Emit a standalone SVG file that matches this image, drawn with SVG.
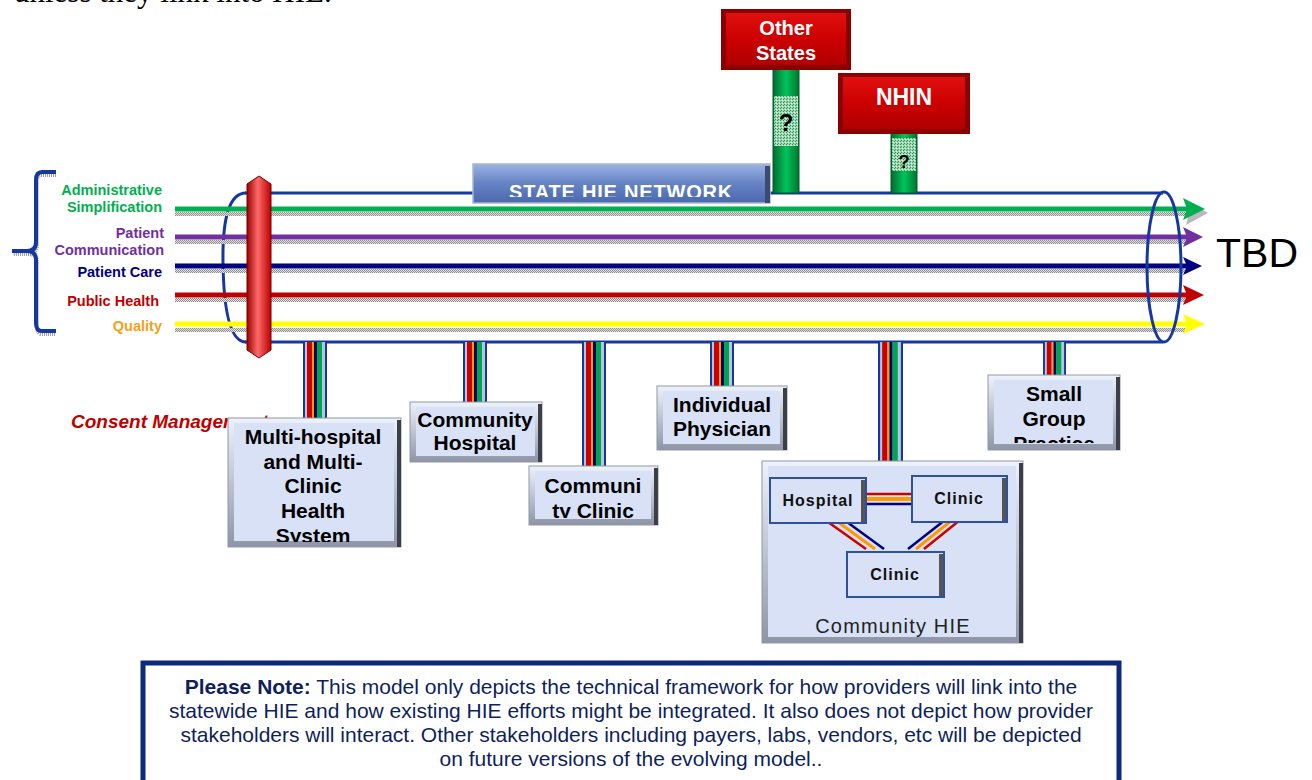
<svg xmlns="http://www.w3.org/2000/svg" width="1312" height="780" viewBox="0 0 1312 780">
<style>
.lbl{font-family:"Liberation Sans",Arial,sans-serif;font-weight:bold;font-size:14.5px;text-anchor:end}
.nt{font-family:"Liberation Sans",Arial,sans-serif;font-weight:bold;font-size:21px;fill:#000;text-anchor:middle}
.it{font-family:"Liberation Sans",Arial,sans-serif;font-weight:bold;font-size:16px;letter-spacing:1px;fill:#111;text-anchor:middle}
.wt{font-family:"Liberation Sans",Arial,sans-serif;font-weight:bold;fill:#fff;text-anchor:middle}
.note{font-family:"Liberation Sans",Arial,sans-serif;font-size:21px;fill:#0d1f5c;text-anchor:middle}
.bo{fill:url(#gOuter);stroke:#8e97aa;stroke-width:1}
.bi{fill:#d8e1f5}
.br{fill:#3c3f48}
.ibo{fill:#d8e1f5;stroke:#2f4f9f;stroke-width:2}
.ro{fill:#8a0000}
.ri{fill:url(#gRed)}
.shadow{fill:url(#dots)}
.tube{fill:none;stroke:#1538a0;stroke-width:3}
</style>
<defs>
<pattern id="dots" width="2" height="2" patternUnits="userSpaceOnUse">
<rect width="2" height="2" fill="#e6e6e6"/><rect width="1" height="1" fill="#8a8a8a"/><rect x="1" y="1" width="1" height="1" fill="#8a8a8a"/>
</pattern>
<pattern id="gdots" width="3" height="3" patternUnits="userSpaceOnUse">
<rect width="3" height="3" fill="#9fdcb4"/><rect width="1" height="1" fill="#2f8f55"/><rect x="2" y="1" width="1" height="1" fill="#e8fff0"/><rect x="1" y="2" width="1" height="1" fill="#2f8f55"/>
</pattern>
<linearGradient id="gOuter" x1="0" y1="0" x2="0" y2="1"><stop offset="0" stop-color="#eef2fb"/><stop offset="1" stop-color="#8d95a6"/></linearGradient>
<linearGradient id="gRed" x1="0" y1="0" x2="0" y2="1"><stop offset="0" stop-color="#e01010"/><stop offset="0.5" stop-color="#cc0000"/><stop offset="1" stop-color="#b00000"/></linearGradient>
<linearGradient id="gCyl" x1="0" y1="0" x2="1" y2="0"><stop offset="0" stop-color="#9a0000"/><stop offset="0.45" stop-color="#ff6a6a"/><stop offset="1" stop-color="#b80000"/></linearGradient>
<linearGradient id="gGreen" x1="0" y1="0" x2="1" y2="0"><stop offset="0" stop-color="#006a30"/><stop offset="0.5" stop-color="#00c35a"/><stop offset="1" stop-color="#00762f"/></linearGradient>
<linearGradient id="gState" x1="0" y1="0" x2="0" y2="1"><stop offset="0" stop-color="#9ab3e2"/><stop offset="0.5" stop-color="#6583c4"/><stop offset="1" stop-color="#4a68ac"/></linearGradient>
<symbol id="pole" viewBox="0 0 24 10" preserveAspectRatio="none">
<rect x="0" width="24" height="10" fill="#1538a0"/>
<rect x="2" width="20" height="10" fill="#b8c4dc"/>
<rect x="4" width="5" height="10" fill="#cc0000"/>
<rect x="9" width="2" height="10" fill="#ff9900"/>
<rect x="11" width="3" height="10" fill="#000066"/>
<rect x="14" width="5" height="10" fill="#00a550"/>
</symbol>
<clipPath id="cpState"><rect x="473" y="164" width="297" height="33"/></clipPath>
<clipPath id="cpMulti"><rect x="228" y="418" width="173" height="124"/></clipPath>
<clipPath id="cpClinic"><rect x="529" y="466" width="129" height="52"/></clipPath>
<clipPath id="cpSmall"><rect x="988" y="375" width="132" height="68"/></clipPath>
</defs>
<rect width="1312" height="780" fill="#fff"/>

<text x="14" y="2" font-family="Liberation Serif,serif" font-size="31" fill="#000">unless they link into HIE.</text>

<g id="benefit-labels">
<path d="M56 175 L42 175 Q37 175 37 182 L37 244 Q37 254 28 254 L13 254 M28 254 Q37 254 37 263 L37 326 Q37 334 42 334 L56 334" fill="none" stroke="#9a9a9a" stroke-width="4" stroke-dasharray="1 1"/>
<path d="M56 172 L42 172 Q36 172 36 180 L36 242 Q36 251 27 251 L12 251 M27 251 Q36 251 36 260 L36 323 Q36 331 42 331 L56 331" fill="none" stroke="#1538a0" stroke-width="4"/>
<text class="lbl" x="162" y="195" fill="#00b050">Administrative</text>
<text class="lbl" x="162" y="212" fill="#00b050">Simplification</text>
<text class="lbl" x="164" y="238" fill="#7030a0">Patient</text>
<text class="lbl" x="164" y="255" fill="#7030a0">Communication</text>
<text class="lbl" x="162" y="277" fill="#000080">Patient Care</text>
<text class="lbl" x="159" y="306" fill="#c00000">Public Health</text>
<text class="lbl" x="162" y="331" fill="#f5a020">Quality</text>
</g>

<g id="connectors">
<path class="tube" d="M245 193 L1163 193 M245 342 L1163 342"/>
<path class="tube" d="M246 193 Q222 193 223 262 Q224 342 246 342"/>
<rect class="shadow" x="175" y="212" width="1018" height="4"/>
<rect class="shadow" x="175" y="240" width="1010" height="4"/>
<rect class="shadow" x="175" y="269" width="1010" height="4"/>
<rect class="shadow" x="175" y="298" width="1010" height="4"/>
<rect class="shadow" x="175" y="328" width="1010" height="4"/>
<line x1="175" y1="209" x2="1195" y2="209" stroke="#00b050" stroke-width="5"/>
<line x1="175" y1="237" x2="1192" y2="237" stroke="#7030a0" stroke-width="5"/>
<line x1="175" y1="266" x2="1192" y2="266" stroke="#000080" stroke-width="5"/>
<line x1="175" y1="295" x2="1192" y2="295" stroke="#c00000" stroke-width="5"/>
<line x1="175" y1="324" x2="1192" y2="324" stroke="#ffff00" stroke-width="5"/>
<polygon points="1186,201 1208,213 1186,225 1189,213" fill="#8a8a8a" opacity="0.6"/>
<polygon points="1183,198 1205,209 1183,220 1187,209" fill="#00b050"/>
<polygon points="1183,227 1203,237 1183,247 1187,237" fill="#7030a0"/>
<polygon points="1183,257 1202,266 1183,275 1187,266" fill="#000080"/>
<polygon points="1183,285 1204,295 1183,305 1187,295" fill="#c00000"/>
<polygon points="1183,314 1205,324 1183,334 1187,324" fill="#ffff00"/>
<ellipse cx="1164" cy="267" rx="17" ry="75" fill="none" stroke="#1538a0" stroke-width="3"/>
<use href="#pole" x="303" y="342" width="24" height="78"/>
<use href="#pole" x="463" y="342" width="24" height="61"/>
<use href="#pole" x="582" y="342" width="24" height="125"/>
<use href="#pole" x="710" y="342" width="24" height="45"/>
<use href="#pole" x="878" y="342" width="25" height="120"/>
<use href="#pole" x="1043" y="342" width="23" height="34"/>
<g id="uplink-other-states">
<rect x="773" y="69" width="26" height="124" fill="url(#gGreen)" stroke="#005a28" stroke-width="1"/>
<rect x="774" y="96" width="24" height="50" fill="url(#gdots)"/>
<text x="786" y="131" font-family="Liberation Sans,Arial,sans-serif" font-weight="bold" font-size="24" text-anchor="middle" fill="#000">?</text>
</g>
<g id="uplink-nhin">
<rect x="891" y="133" width="26" height="60" fill="url(#gGreen)" stroke="#005a28" stroke-width="1"/>
<rect x="892" y="138" width="24" height="33" fill="url(#gdots)"/>
<text x="904" y="168" font-family="Liberation Sans,Arial,sans-serif" font-weight="bold" font-size="19" text-anchor="middle" fill="#000">?</text>
</g>
</g>

<g id="consent-management">
<path d="M247 184 L259 176 L271 184 L271 350 L259 358 L247 350 Z" fill="url(#gCyl)" stroke="#7a0000" stroke-width="1"/>
<text x="71" y="428" font-family="Liberation Sans,Arial,sans-serif" font-weight="bold" font-style="italic" font-size="19" fill="#c00000">Consent Management</text>
</g>

<g id="state-hie-network">
<rect x="473" y="164" width="297" height="39" fill="url(#gState)" stroke="#a9b6cf" stroke-width="1.5"/>
<rect x="765" y="166" width="5" height="37" fill="#3a4a70"/>
<g clip-path="url(#cpState)"><text class="wt" x="621" y="199" font-size="20" letter-spacing="0.8">STATE HIE NETWORK</text></g>
</g>

<g id="other-states">
<rect class="ro" x="721" y="9" width="130" height="61"/>
<rect class="ri" x="726" y="13" width="120" height="52"/>
<text class="wt" x="786" y="35" font-size="20">Other</text>
<text class="wt" x="786" y="60" font-size="20">States</text>
</g>

<g id="nhin">
<rect class="ro" x="838" y="73" width="132" height="61"/>
<rect class="ri" x="843" y="77" width="122" height="52"/>
<text class="wt" x="904" y="105" font-size="23">NHIN</text>
</g>

<text id="tbd" x="1216" y="267" font-family="Liberation Sans,Arial,sans-serif" font-size="41" fill="#000">TBD</text>

<g id="multi-hospital">
<rect class="bo" x="228" y="418" width="173" height="129"/>
<rect class="bi" x="234" y="423" width="160" height="118"/>
<rect class="br" x="397" y="420" width="4" height="127"/>
<g clip-path="url(#cpMulti)">
<text class="nt" x="313" y="444">Multi-hospital</text>
<text class="nt" x="313" y="469">and Multi-</text>
<text class="nt" x="313" y="493">Clinic</text>
<text class="nt" x="313" y="518">Health</text>
<text class="nt" x="313" y="543">System</text>
</g>
</g>

<g id="community-hospital">
<rect class="bo" x="410" y="402" width="132" height="60"/>
<rect class="bi" x="416" y="407" width="119" height="49"/>
<rect class="br" x="538" y="404" width="4" height="58"/>
<text class="nt" x="475" y="427" font-size="18">Community</text>
<text class="nt" x="475" y="450">Hospital</text>
</g>

<g id="community-clinic">
<rect class="bo" x="529" y="466" width="129" height="59"/>
<rect class="bi" x="535" y="471" width="116" height="48"/>
<rect class="br" x="654" y="468" width="4" height="57"/>
<g clip-path="url(#cpClinic)">
<text class="nt" x="593" y="493">Communi</text>
<text class="nt" x="593" y="518">ty Clinic</text>
</g>
</g>

<g id="individual-physician">
<rect class="bo" x="657" y="386" width="130" height="64"/>
<rect class="bi" x="663" y="391" width="117" height="53"/>
<rect class="br" x="783" y="388" width="4" height="62"/>
<text class="nt" x="722" y="412">Individual</text>
<text class="nt" x="722" y="436">Physician</text>
</g>

<g id="small-group-practice">
<rect class="bo" x="988" y="375" width="132" height="75"/>
<rect class="bi" x="994" y="380" width="119" height="64"/>
<rect class="br" x="1116" y="377" width="4" height="73"/>
<g clip-path="url(#cpSmall)">
<text class="nt" x="1054" y="401">Small</text>
<text class="nt" x="1054" y="426">Group</text>
<text class="nt" x="1054" y="451">Practice</text>
</g>
</g>

<g id="community-hie">
<rect class="bo" x="762" y="461" width="261" height="182"/>
<rect class="bi" x="768" y="466" width="248" height="171"/>
<rect class="br" x="1019" y="463" width="4" height="180"/>
<g id="hie-links">
<line x1="866" y1="494" x2="912" y2="494" stroke="#cc0000" stroke-width="2.5"/>
<line x1="866" y1="499" x2="912" y2="499" stroke="#ff9900" stroke-width="4"/>
<line x1="866" y1="504" x2="912" y2="504" stroke="#000080" stroke-width="2.5"/>
<line x1="828" y1="522" x2="866" y2="549" stroke="#cc0000" stroke-width="2.5"/>
<line x1="838" y1="522" x2="875" y2="549" stroke="#ff9900" stroke-width="3"/>
<line x1="847" y1="522" x2="884" y2="549" stroke="#000080" stroke-width="2.5"/>
<line x1="945" y1="520" x2="908" y2="549" stroke="#000080" stroke-width="2.5"/>
<line x1="952" y1="520" x2="916" y2="549" stroke="#ff9900" stroke-width="3"/>
<line x1="960" y1="520" x2="924" y2="549" stroke="#cc0000" stroke-width="2.5"/>
</g>
<g id="hie-hospital">
<rect class="ibo" x="770" y="478" width="96" height="45"/>
<rect x="861" y="480" width="4" height="42" fill="#555"/>
<text class="it" x="818" y="506">Hospital</text>
</g>
<g id="hie-clinic-1">
<rect class="ibo" x="912" y="476" width="95" height="46"/>
<rect x="1002" y="478" width="4" height="43" fill="#555"/>
<text class="it" x="959" y="504">Clinic</text>
</g>
<g id="hie-clinic-2">
<rect class="ibo" x="847" y="552" width="97" height="45"/>
<rect x="939" y="554" width="4" height="42" fill="#555"/>
<text class="it" x="895" y="580">Clinic</text>
</g>
<text x="893" y="633" font-family="Liberation Sans,Arial,sans-serif" font-size="20" text-anchor="middle" fill="#222" letter-spacing="1.2">Community HIE</text>
</g>

<g id="note">
<rect x="143" y="663" width="976" height="120" fill="#fff" stroke="#0d2a78" stroke-width="5"/>
<text class="note" x="631" y="694"><tspan font-weight="bold">Please Note:</tspan> This model only depicts the technical framework for how providers will link into the</text>
<text class="note" x="631" y="718">statewide HIE and how existing HIE efforts might be integrated. It also does not depict how provider</text>
<text class="note" x="631" y="742">stakeholders will interact. Other stakeholders including payers, labs, vendors, etc will be depicted</text>
<text class="note" x="631" y="766">on future versions of the evolving model..</text>
</g>
</svg>
